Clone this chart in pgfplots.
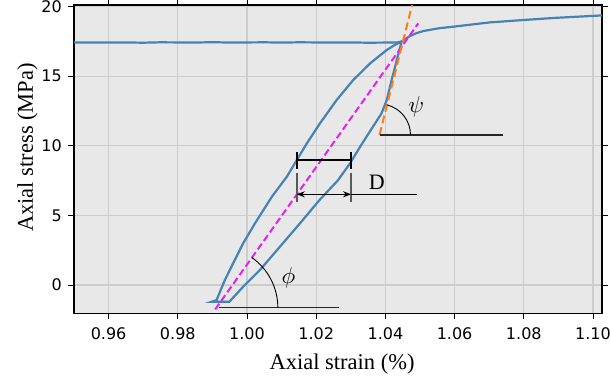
\documentclass[border=0pt]{standalone}
\usepackage{graphicx}
\usepackage{fontspec}
\setmainfont{Liberation Serif}
\newfontfamily\dejavu{DejaVu Sans}
\usepackage{pgfplots}
\pgfplotsset{compat=1.18}
\usetikzlibrary{arrows.meta}
\definecolor{bg}{RGB}{232,232,232}
\definecolor{gridc}{RGB}{205,205,205}
\definecolor{curve}{RGB}{70,130,180}
\definecolor{mag}{RGB}{228,32,242}
\definecolor{ora}{RGB}{255,125,20}
\begin{document}
\begin{tikzpicture}
\begin{axis}[
  at={(0,0)}, anchor=south west, scale only axis,
  width=528bp, height=308.3bp,
  xmin=0.95, xmax=1.1026, ymin=-2.03, ymax=20.12,
  axis background/.style={fill=bg},
  grid=major, grid style={gridc, line width=1.1bp},
  axis line style={black, line width=1.1bp},
  tick align=outside, major tick length=5.5bp,
  tick style={black, line width=1bp},
  xtick={0.96,0.98,1.00,1.02,1.04,1.06,1.08,1.10},
  ytick={0,5,10,15,20},
  /pgf/number format/assume math mode=true,
  xticklabel style={/pgf/number format/fixed, /pgf/number format/fixed zerofill, /pgf/number format/precision=2, anchor=north, inner sep=0pt, yshift=-8.5bp},
  yticklabel style={anchor=east, inner sep=0pt, xshift=-6.5bp},
  tick label style={font=\dejavu\fontsize{16bp}{18bp}\selectfont},
  xlabel={Axial strain (\%)},
  ylabel={Axial stress (MPa)},
  label style={font=\fontsize{22.5bp}{26bp}\selectfont},
  xlabel style={at={([yshift=-55.7bp]rel axis cs:0.5076,0)}, anchor=base},
  ylabel style={at={([xshift=-41bp]rel axis cs:0,0.538)}, anchor=base},
  clip=true,
]
% plateau and post-peak curve
\addplot[curve, line width=2.2bp] coordinates {
(0.9497,17.42) (0.955,17.43) (0.96,17.42) (0.965,17.43) (0.97,17.41) (0.975,17.44)
(0.98,17.43) (0.985,17.42) (0.99,17.45) (0.995,17.42) (1.00,17.43) (1.005,17.44)
(1.01,17.42) (1.015,17.44) (1.02,17.43) (1.025,17.42) (1.03,17.43) (1.035,17.41)
(1.04,17.42) (1.0435,17.43) (1.0447,17.5) (1.047,17.88) (1.049,18.1) (1.051,18.25)
(1.0555,18.45) (1.0596,18.56) (1.065,18.72) (1.0702,18.87) (1.0798,19.04)
(1.0894,19.2) (1.1026,19.37)};
% hysteresis loop
\addplot[curve, line width=2.2bp] coordinates {
(1.0447,17.5) (1.0425,17.22) (1.0404,16.89) (1.0356,15.93) (1.0307,14.73) (1.0259,13.29)
(1.0211,11.62) (1.0173,10.18) (1.0144,8.98) (1.0115,7.78) (1.0072,6.35)
(1.0023,4.43) (0.9989,3.0) (0.996,1.56) (0.9936,0.36) (0.9912,-1.08) (0.9898,-1.2)
(0.9949,-1.2) (0.9989,-0.12) (1.0038,1.1) (1.0095,2.75) (1.0153,4.43) (1.0211,6.15)
(1.0262,7.5) (1.0298,8.75) (1.0327,9.94) (1.0362,11.3) (1.0388,12.3) (1.0404,13.29)
(1.0418,14.73) (1.0433,16.17) (1.0447,17.5)};
% secant line
\addplot[mag, line width=2bp, dash pattern=on 7bp off 3.5bp] coordinates {(0.9908,-1.75) (1.0495,18.8)};
% tangent line
\addplot[ora, line width=2bp, dash pattern=on 8bp off 4bp] coordinates {(1.0383,10.78) (1.0477,20.12)};
% psi angle
\addplot[black!85, line width=1.3bp] coordinates {(1.0383,10.78) (1.074,10.78)};
\draw[black, line width=0.9bp] (axis cs:1.0383,10.78) ++(0:31bp) arc[start angle=0, end angle=76, radius=31bp];
\node at (axis cs:1.0489,12.81) {\scalebox{2.3}{$\psi$}};
% phi angle
\addplot[black!85, line width=1.3bp] coordinates {(0.9918,-1.63) (1.0266,-1.63)};
\draw[black, line width=0.9bp] (axis cs:0.99114,-1.63) ++(0:61.5bp) arc[start angle=0, end angle=54.6, radius=61.5bp];
\node at (axis cs:1.012,0.55) {\scalebox{2.3}{$\phi$}};
% D annotation
\addplot[black, line width=1.3bp] coordinates {(1.01439,8.98) (1.03008,8.98)};
\addplot[black, line width=1.5bp] coordinates {(1.01439,9.55) (1.01439,8.36)};
\addplot[black, line width=1.5bp] coordinates {(1.03008,9.55) (1.03008,8.36)};
\addplot[black!65, line width=1.5bp] coordinates {(1.01439,8.07) (1.01439,5.99)};
\addplot[black!65, line width=1.5bp] coordinates {(1.03008,8.07) (1.03008,5.99)};
\draw[{Stealth[length=8bp,width=6bp]}-{Stealth[length=8bp,width=6bp]}, line width=1.3bp] (axis cs:1.01439,6.52) -- (axis cs:1.03008,6.52);
\addplot[black, line width=1.2bp] coordinates {(1.03008,6.52) (1.0491,6.52)};
\node[font=\fontsize{22bp}{24bp}\selectfont] at (axis cs:1.0375,7.37) {D};
\end{axis}
\pgfresetboundingbox
\useasboundingbox (-74bp,-65.7bp) rectangle (536bp,313.3bp);
\end{tikzpicture}
\end{document}
